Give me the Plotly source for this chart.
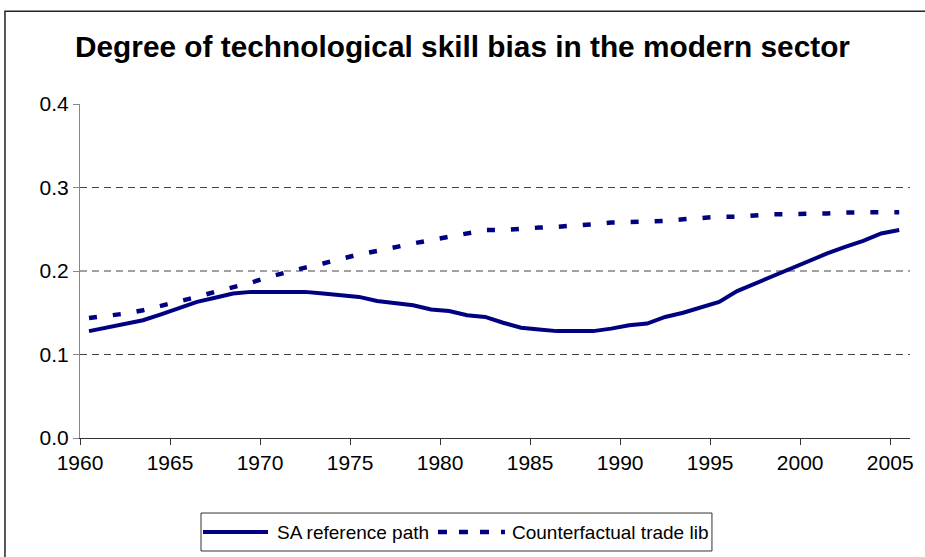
import plotly.graph_objects as go

years = list(range(1960, 2006))
sa_reference = [0.128, 0.132, 0.137, 0.141, 0.148, 0.156, 0.163, 0.168, 0.173, 0.175,
                0.175, 0.175, 0.175, 0.173, 0.171, 0.169, 0.164, 0.161, 0.159, 0.154,
                0.152, 0.147, 0.145, 0.138, 0.132, 0.130, 0.128, 0.128, 0.128, 0.131,
                0.135, 0.137, 0.145, 0.150, 0.156, 0.163, 0.176, 0.185, 0.194, 0.204,
                0.213, 0.221, 0.229, 0.236, 0.245, 0.249]
counterfactual = [0.1436, 0.146, 0.149, 0.153, 0.158, 0.164, 0.169, 0.175, 0.180, 0.186,
                  0.193, 0.199, 0.204, 0.209, 0.215, 0.220, 0.224, 0.229, 0.233, 0.237,
                  0.241, 0.246, 0.249, 0.249, 0.251, 0.252, 0.253, 0.254, 0.256, 0.258,
                  0.2585, 0.2585, 0.260, 0.262, 0.264, 0.265, 0.265, 0.267, 0.268, 0.268,
                  0.268, 0.269, 0.270, 0.2705, 0.2705, 0.2705]
names = ["SA reference path", "Counterfactual trade lib"]
title = "Degree of technological skill bias in the modern sector"
x_ticks = list(range(1960, 2006, 5))
y_ticks = [0.0, 0.1, 0.2, 0.3, 0.4]
grid_vals = [0.1, 0.2, 0.3]

NAVY = "#000080"
FONT = "Liberation Sans, Arial, sans-serif"
xpos = [y + 0.5 for y in years]

fig = go.Figure()
fig.add_trace(go.Scatter(x=xpos, y=sa_reference, name=names[0], mode="lines",
                         line=dict(color=NAVY, width=4), showlegend=False))
fig.add_trace(go.Scatter(x=xpos, y=counterfactual, name=names[1], mode="lines",
                         line=dict(color=NAVY, width=4.5, dash="8px,16px"), showlegend=False))

shapes = []
for g in grid_vals:
    shapes.append(dict(type="line", xref="paper", yref="y", x0=0, x1=1, y0=g, y1=g,
                       line=dict(color="#444444", width=1, dash="7px,5px"), layer="below"))
# outer chart border
shapes.append(dict(type="rect", xref="paper", yref="paper", x0=-0.0904, x1=1.03,
                   y0=-0.37, y1=1.278, line=dict(color="#222222", width=1.5)))
# legend box
lx0, lx1, ly0, ly1 = 0.1458, 0.7614, -0.3383, -0.2246
ly = (ly0 + ly1) / 2
shapes.append(dict(type="rect", xref="paper", yref="paper", x0=lx0, x1=lx1, y0=ly0, y1=ly1,
                   line=dict(color="#333333", width=1)))
shapes.append(dict(type="line", xref="paper", yref="paper", x0=0.1482, x1=0.2265, y0=ly, y1=ly,
                   line=dict(color=NAVY, width=4)))
shapes.append(dict(type="line", xref="paper", yref="paper", x0=0.4313, x1=0.512, y0=ly, y1=ly,
                   line=dict(color=NAVY, width=4.5, dash="9px,12px")))

annotations = [
    dict(text=names[0], xref="paper", yref="paper", x=0.2349, y=ly, xanchor="left",
         yanchor="middle", showarrow=False, font=dict(family=FONT, size=19, color="#000")),
    dict(text=names[1], xref="paper", yref="paper", x=0.518, y=ly, xanchor="left",
         yanchor="middle", showarrow=False, font=dict(family=FONT, size=19, color="#000")),
]

fig.update_layout(
    width=925, height=557,
    margin=dict(l=80, r=15, t=104, b=119),
    paper_bgcolor="white", plot_bgcolor="white",
    title=dict(text="<b>" + title + "</b>", x=0.5, xanchor="center", y=1 - 47 / 557,
               yanchor="middle", font=dict(family=FONT, size=29.8, color="#000")),
    font=dict(family=FONT, size=21, color="#000"),
    shapes=shapes, annotations=annotations,
    xaxis=dict(range=[1960, 2006.1], tickvals=x_ticks, ticktext=[str(v) for v in x_ticks],
               showgrid=False, zeroline=False, showline=True, linecolor="#333333", linewidth=1,
               ticks="outside", ticklen=6, tickcolor="#333333",
               tickfont=dict(family=FONT, size=21, color="#000")),
    yaxis=dict(range=[0, 0.4], tickvals=y_ticks, ticktext=["%.1f" % v for v in y_ticks],
               showgrid=False, zeroline=False, showline=True, linecolor="#888888", linewidth=1,
               ticks="outside", ticklen=6, tickcolor="#888888",
               tickfont=dict(family=FONT, size=21, color="#000")),
)

fig.write_html("out.html", config={"displayModeBar": False},
               post_script="document.body.style.margin='0';document.body.style.overflow='hidden';")
